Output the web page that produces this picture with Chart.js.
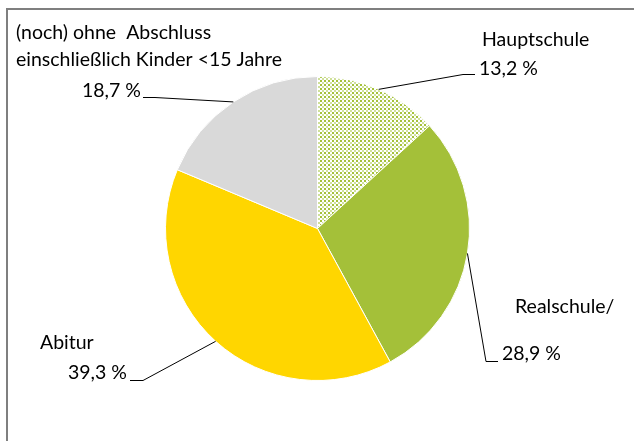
<!DOCTYPE html>
<html>
<head>
<meta charset="utf-8">
<script src="https://cdn.jsdelivr.net/npm/chart.js@4.4.1/dist/chart.umd.min.js"></script>
<style>
  html, body { margin: 0; padding: 0; background: #fff; overflow: hidden; }
  #wrap { position: relative; width: 634px; height: 441px; }
  #frame {
    position: absolute; left: 6px; top: 8px; width: 800px; height: 600px;
    border-left: 2px solid #7f7f7f; border-top: 2px solid #7f7f7f;
  }
  canvas { position: absolute; left: 0; top: 0; }
</style>
</head>
<body>
<div id="wrap">
  <div id="frame"></div>
  <canvas id="pie" width="634" height="441"></canvas>
</div>
<script>
// slices clockwise from 12 o'clock
const categories = ['Hauptschule', 'Realschule/', 'Abitur', '(noch) ohne  Abschluss'];
const shares     = [13.2, 28.9, 39.3, 18.7];
const valueLabels = ['13,2 %', '28,9 %', '39,3 %', '18,7 %'];
const extraLines  = [null, null, null, 'einschließlich Kinder <15 Jahre'];

// label placement: name line, value line, elbow of the leader line
const labelLayout = [
  { nameX: 482, nameY: 40, valX: 479, valY: 69, elbowX: 463, endX: 475, lineY: 74 },
  { nameX: 515, nameY: 307, valX: 502, valY: 354, elbowX: 486, endX: 498, lineY: 361 },
  { nameX: 40, nameY: 343, valX: 68, valY: 373, elbowX: 143, endX: 130, lineY: 380 },
  { nameX: 16, nameY: 33, valX: 82, valY: 91, elbowX: 155, endX: 143, lineY: 97, extraY: 60 }
];

function makeHatch() {
  const c = document.createElement('canvas');
  c.width = 4; c.height = 4;
  const g = c.getContext('2d');
  g.fillStyle = '#ffffff';
  g.fillRect(0, 0, 4, 4);
  g.fillStyle = '#a5c13a';
  g.fillRect(0, 0, 2, 2);
  g.fillStyle = '#cfe09a';
  g.fillRect(2, 2, 2, 2);
  return g.createPattern(c, 'repeat');
}

const ctx = document.getElementById('pie').getContext('2d');
const colors = [makeHatch(), '#a4c039', '#ffd600', '#d9d9d9'];

const labelPlugin = {
  id: 'leaderLabels',
  afterDatasetsDraw(chart) {
    const c = chart.ctx;
    const arcs = chart.getDatasetMeta(0).data;
    c.save();
    c.font = '19.5px Lato, "Open Sans", sans-serif';
    c.fillStyle = '#000';
    c.textBaseline = 'middle';
    c.textAlign = 'left';
    arcs.forEach((arc, i) => {
      const L = labelLayout[i];
      const mid = (arc.startAngle + arc.endAngle) / 2;
      const px = arc.x + Math.cos(mid) * arc.outerRadius;
      const py = arc.y + Math.sin(mid) * arc.outerRadius;
      c.strokeStyle = '#000';
      c.lineWidth = 1;
      c.beginPath();
      c.moveTo(px, py);
      c.lineTo(L.elbowX, L.lineY + 0.5);
      c.lineTo(L.endX, L.lineY + 0.5);
      c.stroke();
      c.fillText(categories[i], L.nameX, L.nameY);
      if (extraLines[i]) c.fillText(extraLines[i], L.nameX, L.extraY);
      c.fillText(valueLabels[i], L.valX, L.valY);
    });
    c.restore();
  }
};

new Chart(ctx, {
  type: 'pie',
  data: {
    labels: categories,
    datasets: [{
      data: shares,
      backgroundColor: colors,
      borderColor: '#ffffff',
      borderWidth: 1
    }]
  },
  options: {
    responsive: false,
    animation: false,
    layout: { padding: { left: 165, right: 164, top: 76, bottom: 60 } },
    plugins: {
      legend: { display: false },
      tooltip: { enabled: false }
    }
  },
  plugins: [labelPlugin]
});
</script>
</body>
</html>
